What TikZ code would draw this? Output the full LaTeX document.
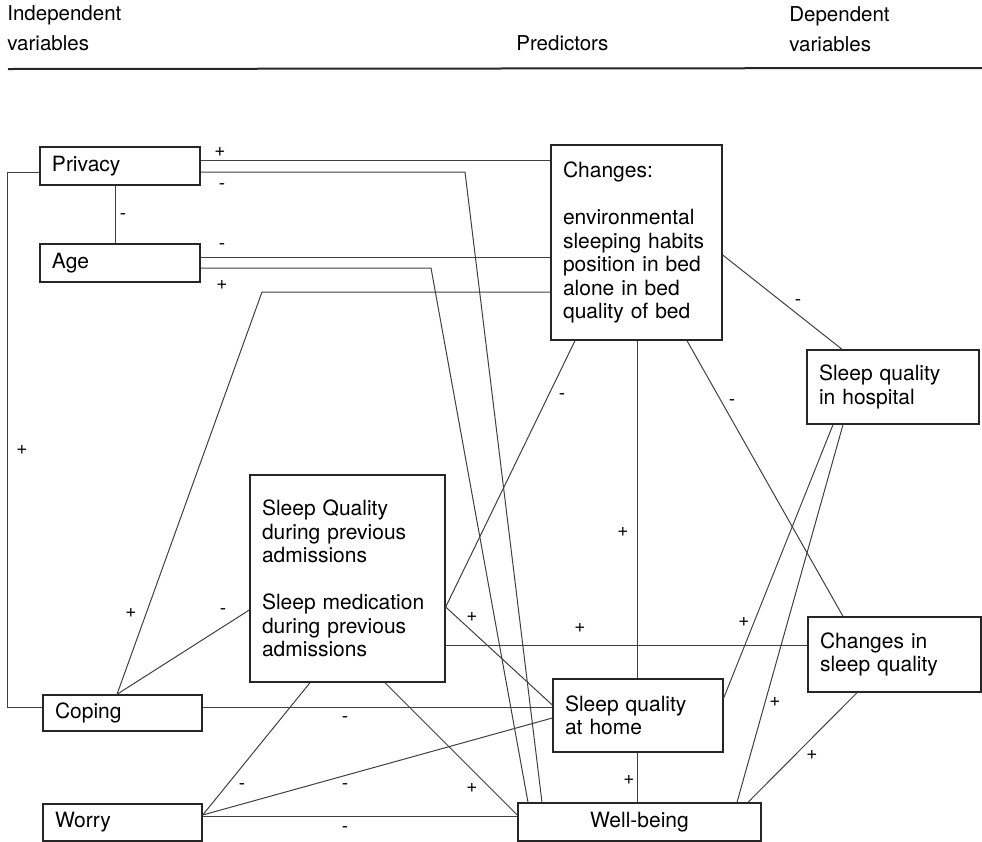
\documentclass[tikz,border=0pt]{standalone}
\usepackage{fontspec}
\setmainfont{TeX Gyre Heros}
\usetikzlibrary{positioning}
\definecolor{LineGray}{HTML}{404040}
\definecolor{BoxGray}{HTML}{262626}
\tikzset{var/.style={draw=BoxGray,line width=.7pt,align=left,inner xsep=6pt,
 inner ysep=0pt,font=\fontsize{10.5}{11.75}\selectfont},
 boxsize/.style 2 args={text width=#1,minimum height=#2},
 link/.style={draw=LineGray,line width=.5pt},
 sign/.style={inner sep=0pt,font=\fontsize{9.5}{10}\selectfont},
 head/.style={inner sep=0pt,align=left,font=\fontsize{10.25}{15}\selectfont}}

\begin{document}
\begin{tikzpicture}[x=.5pt,y=-.5pt]
\useasboundingbox (0,0) rectangle (982,842);
% column heads and rule
\node[head,anchor=west] (indep) at (7,28) {Independent\\variables};
\node[head,anchor=west] (pred) at (516,43) {Predictors};
\node[head,anchor=west] (dep) at (789,29) {Dependent\\variables};
\draw[BoxGray,line width=1pt] (8,69)--(982,68);
% boxes
\node[var,boxsize={68pt}{19pt}] (privacy) at (120,166) {Privacy};
\node[var,boxsize={68pt}{19pt}] (age) at (120,263) {Age};
\node[var,boxsize={67.5pt}{18pt}] (coping) at (122.5,713) {Coping};
\node[var,boxsize={67.5pt}{18.5pt}] (worry) at (122.5,822.5) {Worry};
\node[var,boxsize={73.5pt}{97.5pt}] (changes) at (636.5,242.5)
 {Changes:\\[11.75pt]environmental\\sleeping habits\\position in bed\\alone in bed\\quality of bed};
\node[var,boxsize={85.5pt}{103.5pt}] (prev) at (347.5,578.5)
 {Sleep Quality\\during previous\\admissions\\[11.75pt]Sleep medication\\during previous\\admissions};
\node[var,boxsize={73pt}{36.5pt}] (home) at (638,715.5) {Sleep quality\\at home};
\node[var,boxsize={74pt}{37pt}] (hospital) at (893,387) {Sleep quality\\in hospital};
\node[var,boxsize={74.5pt}{37.5pt}] (chsq) at (894.5,654.5) {Changes in\\sleep quality};
\node[var,boxsize={109.5pt}{19pt},align=center] (well) at (639.5,822) {Well-being};
% connectors from the independent variables
\draw[link] (privacy.east |- 0,160)--(changes.west |- 0,160);
\draw[link] (privacy.east |- 0,172)--(465,172)--(well.north -| 542,0);
\draw[link] (privacy.west |- 0,172)-|(7,707)--(coping.west |- 0,707);
\draw[link] (privacy.south -| 115,0)--(age.north -| 115,0);
\draw[link] (age.east |- 0,257)--(changes.west |- 0,257);
\draw[link] (age.east |- 0,268)--(431,268)--(well.north -| 528,0);
\draw[link] (coping.north -| 117,0)--(262,292)--(changes.west |- 0,292);
\draw[link] (coping.north -| 117,0)--(prev.west |- 0,610);
\draw[link] (coping.east |- 0,707)--(home.west |- 0,707);
\draw[link] (worry.east |- 0,815)--(prev.south -| 310,0);
\draw[link] (worry.east |- 0,815)--(home.west |- 0,718);
\draw[link] (worry.east |- 0,816)--(well.west |- 0,816);
% connectors from the predictors
\draw[link] (changes.south -| 575,0)--(prev.east |- 0,607);
\draw[link] (changes.south -| 637,0)--(home.north -| 637,0);
\draw[link] (changes.east |- 0,255)--(hospital.north -| 842,0);
\draw[link] (changes.south -| 687,0)--(chsq.north -| 843,0);
\draw[link] (prev.east |- 0,607)--(home.west |- 0,705);
\draw[link] (prev.east |- 0,645)--(chsq.west |- 0,645);
\draw[link] (prev.south -| 385,0)--(well.west |- 0,815);
\draw[link] (home.south -| 637,0)--(well.north -| 637,0);
\draw[link] (hospital.south -| 833,0)--(home.east |- 0,698);
\draw[link] (hospital.south -| 843,0)--(well.north -| 737,0);
\draw[link] (chsq.south -| 857,0)--(well.north -| 748,0);
% signs
\foreach \sx/\sy/\st [count=\i] in {220/152/+,222/187/-,123/217/-,222/247/-,
 222/285/+,22/450/+,131/613/+,223/612/-,562/397/-,623/532/+,798/303/-,
 732/403/-,472/617/+,580/628/+,345/720/-,242/787/-,345/787/-,472/788/+,
 345/830/-,629/780/+,744/622/+,775/702/+,812/755/+}
 \node[sign] (s\i) at (\sx,\sy) {\st};
\end{tikzpicture}
\end{document}
